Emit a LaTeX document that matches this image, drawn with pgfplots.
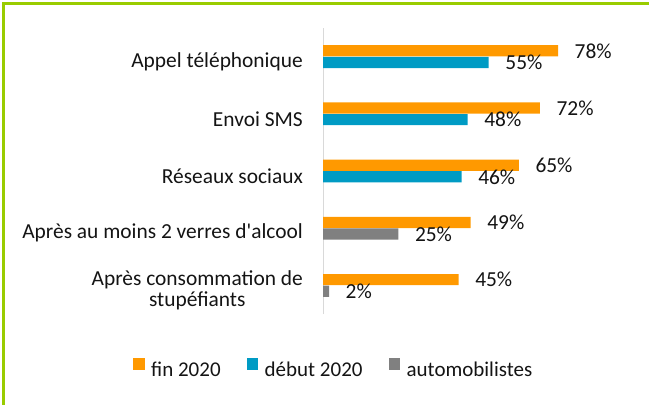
\documentclass[border=0pt]{standalone}
\usepackage{pgfplots}
\pgfplotsset{compat=1.18}
\usepackage{fontspec}
\setmainfont{Carlito}
\definecolor{cOrange}{RGB}{255,153,0}
\definecolor{cBlue}{RGB}{0,155,196}
\definecolor{cGrey}{RGB}{128,128,128}
\definecolor{cGreen}{RGB}{153,204,0}
\definecolor{cText}{RGB}{20,20,20}
\newcommand{\cf}{\fontsize{21.4bp}{20.5bp}\selectfont}
\newcommand{\lf}{\fontsize{21bp}{20.5bp}\selectfont}

\begin{document}
\begin{tikzpicture}
\useasboundingbox (0,0) rectangle (649bp,-405bp);
\draw[cGreen, line width=2.6bp] (3.3bp,-405bp) -- (3.3bp,-3.3bp) -- (649bp,-3.3bp);
\begin{axis}[
  at={(323bp,-314bp)}, anchor=south west,
  scale only axis, width=301.3bp, height=286bp,
  xbar, bar width=11.2bp,
  xmin=0, xmax=100, ymin=-0.5, ymax=4.5,
  axis x line=none, axis y line*=left,
  y axis line style={draw=black!15, line width=1bp},
  xtick=\empty, ytick={0,...,4},
  yticklabels={{Après consommation de\\stupéfiants},{Après au moins 2 verres d\textquotesingle alcool},Réseaux sociaux,Envoi SMS,Appel téléphonique},
  major tick length=0pt,
  yticklabel style={font=\cf, text=cText, align=center, inner sep=0pt, xshift=-20bp, yshift=-5bp},
  clip=false,
  point meta=x,
  /pgf/number format/assume math mode=true,
  nodes near coords={\pgfmathprintnumber{\pgfplotspointmeta}\%},
  every node near coord/.append style={anchor=west, xshift=16.5bp, inner sep=0pt, font=\cf, text=cText},
  legend style={draw=none, fill=none, inner sep=0pt, at={(axis description cs:-0.6306,-0.1888)}, anchor=west, legend columns=3, font=\lf, text=cText, nodes={inner sep=0pt},
    /tikz/every odd column/.append style={column sep=6.5bp},
    /tikz/every even column/.append style={column sep=26bp}},
  legend image code/.code={\draw[#1,draw=none,/tikz/.cd] (0bp,0bp) rectangle (11.5bp,11.5bp);},
]
\addplot[fill=cOrange, draw=none, bar shift=5.8bp] coordinates {(45,0) (49,1) (65,2) (72,3) (78,4)};
\addplot[fill=cBlue, draw=none, bar shift=-5.8bp] coordinates {(46,2) (48,3) (55,4)};
\addplot[fill=cGrey, draw=none, bar shift=-5.8bp] coordinates {(2,0) (25,1)};
\legend{fin 2020, début 2020, automobilistes}
\end{axis}
\end{tikzpicture}
\end{document}
